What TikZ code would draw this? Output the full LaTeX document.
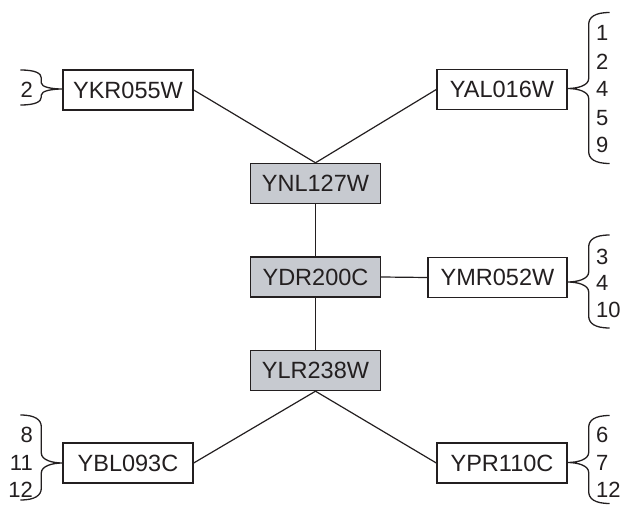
\documentclass[tikz,border=0pt]{standalone}
\usepackage{fontspec}
\setmainfont{Liberation Sans}
\usetikzlibrary{calc}
\definecolor{boxgray}{RGB}{199,202,208}
\definecolor{ink}{RGB}{35,31,32}
\newcommand{\drawbrace}[6]{%
\draw[brc] ($(#1)+(#2*42,-#3)$) .. controls ($(#1)+(#2*27,-#3)$) and ($(#1)+(#2*21,-#3+#5*0.4)$) .. ($(#1)+(#2*21,-#3+#5)$)
 -- ($(#1)+(#2*21,-#6)$) .. controls ($(#1)+(#2*21,-#6*0.3)$) and ($(#1)+(#2*10,0)$) .. (#1)
 .. controls ($(#1)+(#2*10,0)$) and ($(#1)+(#2*21,#6*0.3)$) .. ($(#1)+(#2*21,#6)$)
 -- ($(#1)+(#2*21,#4-#5)$) .. controls ($(#1)+(#2*21,#4-#5*0.4)$) and ($(#1)+(#2*27,#4)$) .. ($(#1)+(#2*42,#4)$);}
\begin{document}
\begin{tikzpicture}[x=1pt,y=-1pt,
  box/.style={draw=ink, line width=1.4pt, minimum width=130pt, minimum height=40pt, inner sep=0pt, text=ink, fill=white, font=\fontsize{23.5}{28}\selectfont},
  gbox/.style={box, fill=boxgray},
  conn/.style={draw=ink, line width=1.2pt},
  brc/.style={draw=ink, line width=1.3pt, line join=round},
  num/.style={inner sep=0pt, text=ink, font=\fontsize{22}{26}\selectfont}]
\useasboundingbox (0,0) rectangle (624,505);
% boxes
\node[box] (ykr) at (128,90) {YKR055W};
\node[box] (yal) at (502,89.5) {YAL016W};
\node[gbox] (ynl) at (315.5,183.5) {YNL127W};
\node[gbox] (ydr) at (315.5,277) {YDR200C};
\node[gbox] (ylr) at (315.5,370.5) {YLR238W};
\node[box, minimum width=139pt] (ymr) at (497.5,277.5) {YMR052W};
\node[box] (ybl) at (128,463) {YBL093C};
\node[box] (ypr) at (502,463) {YPR110C};
% connectors
\draw[conn] (ykr.east) -- (ynl.north);
\draw[conn] (yal.west) -- (ynl.north);
\draw[conn] (ynl.south) -- (ydr.north);
\draw[conn] (ydr.east) -- (ymr.west);
\draw[conn] (ydr.south) -- (ylr.north);
\draw[conn] (ylr.south) -- (ybl.east);
\draw[conn] (ylr.south) -- (ypr.west);
% brace tips
\coordinate (tyal) at ($(yal.east)+(0,-1)$);
\coordinate (tymr) at ($(ymr.east)+(0,4.5)$);
\coordinate (typr) at ($(ypr.east)+(0,-0.5)$);
\coordinate (tykr) at ($(ykr.west)+(0,-1)$);
\coordinate (tybl) at (ybl.west);
% braces
\drawbrace{tyal}{1}{76}{75}{12}{10}
\drawbrace{tymr}{1}{47}{46}{12}{10}
\drawbrace{typr}{1}{47}{41}{12}{10}
\drawbrace{tykr}{-1}{19}{16}{8}{6}
\drawbrace{tybl}{-1}{48}{37}{12}{10}
% numbers right
\node[num, anchor=west] (a1) at (596,33) {1};
\node[num, anchor=west] (a2) at (596,62) {2};
\node[num, anchor=west] (a4) at (596,89) {4};
\node[num, anchor=west] (a5) at (596,118) {5};
\node[num, anchor=west] (a9) at (596,145) {9};
\node[num, anchor=west] (m3) at (596,257) {3};
\node[num, anchor=west] (m4) at (596,283) {4};
\node[num, anchor=west] (m10) at (596,310) {10};
\node[num, anchor=west] (p6) at (596,435) {6};
\node[num, anchor=west] (p7) at (596,463) {7};
\node[num, anchor=west] (p12) at (596,490) {12};
% numbers left
\node[num, anchor=east] (k2) at (33,90) {2};
\node[num, anchor=east] (b8) at (33,435) {8};
\node[num, anchor=east] (b11) at (33,463) {11};
\node[num, anchor=east] (b12) at (33,490) {12};
\end{tikzpicture}
\end{document}
